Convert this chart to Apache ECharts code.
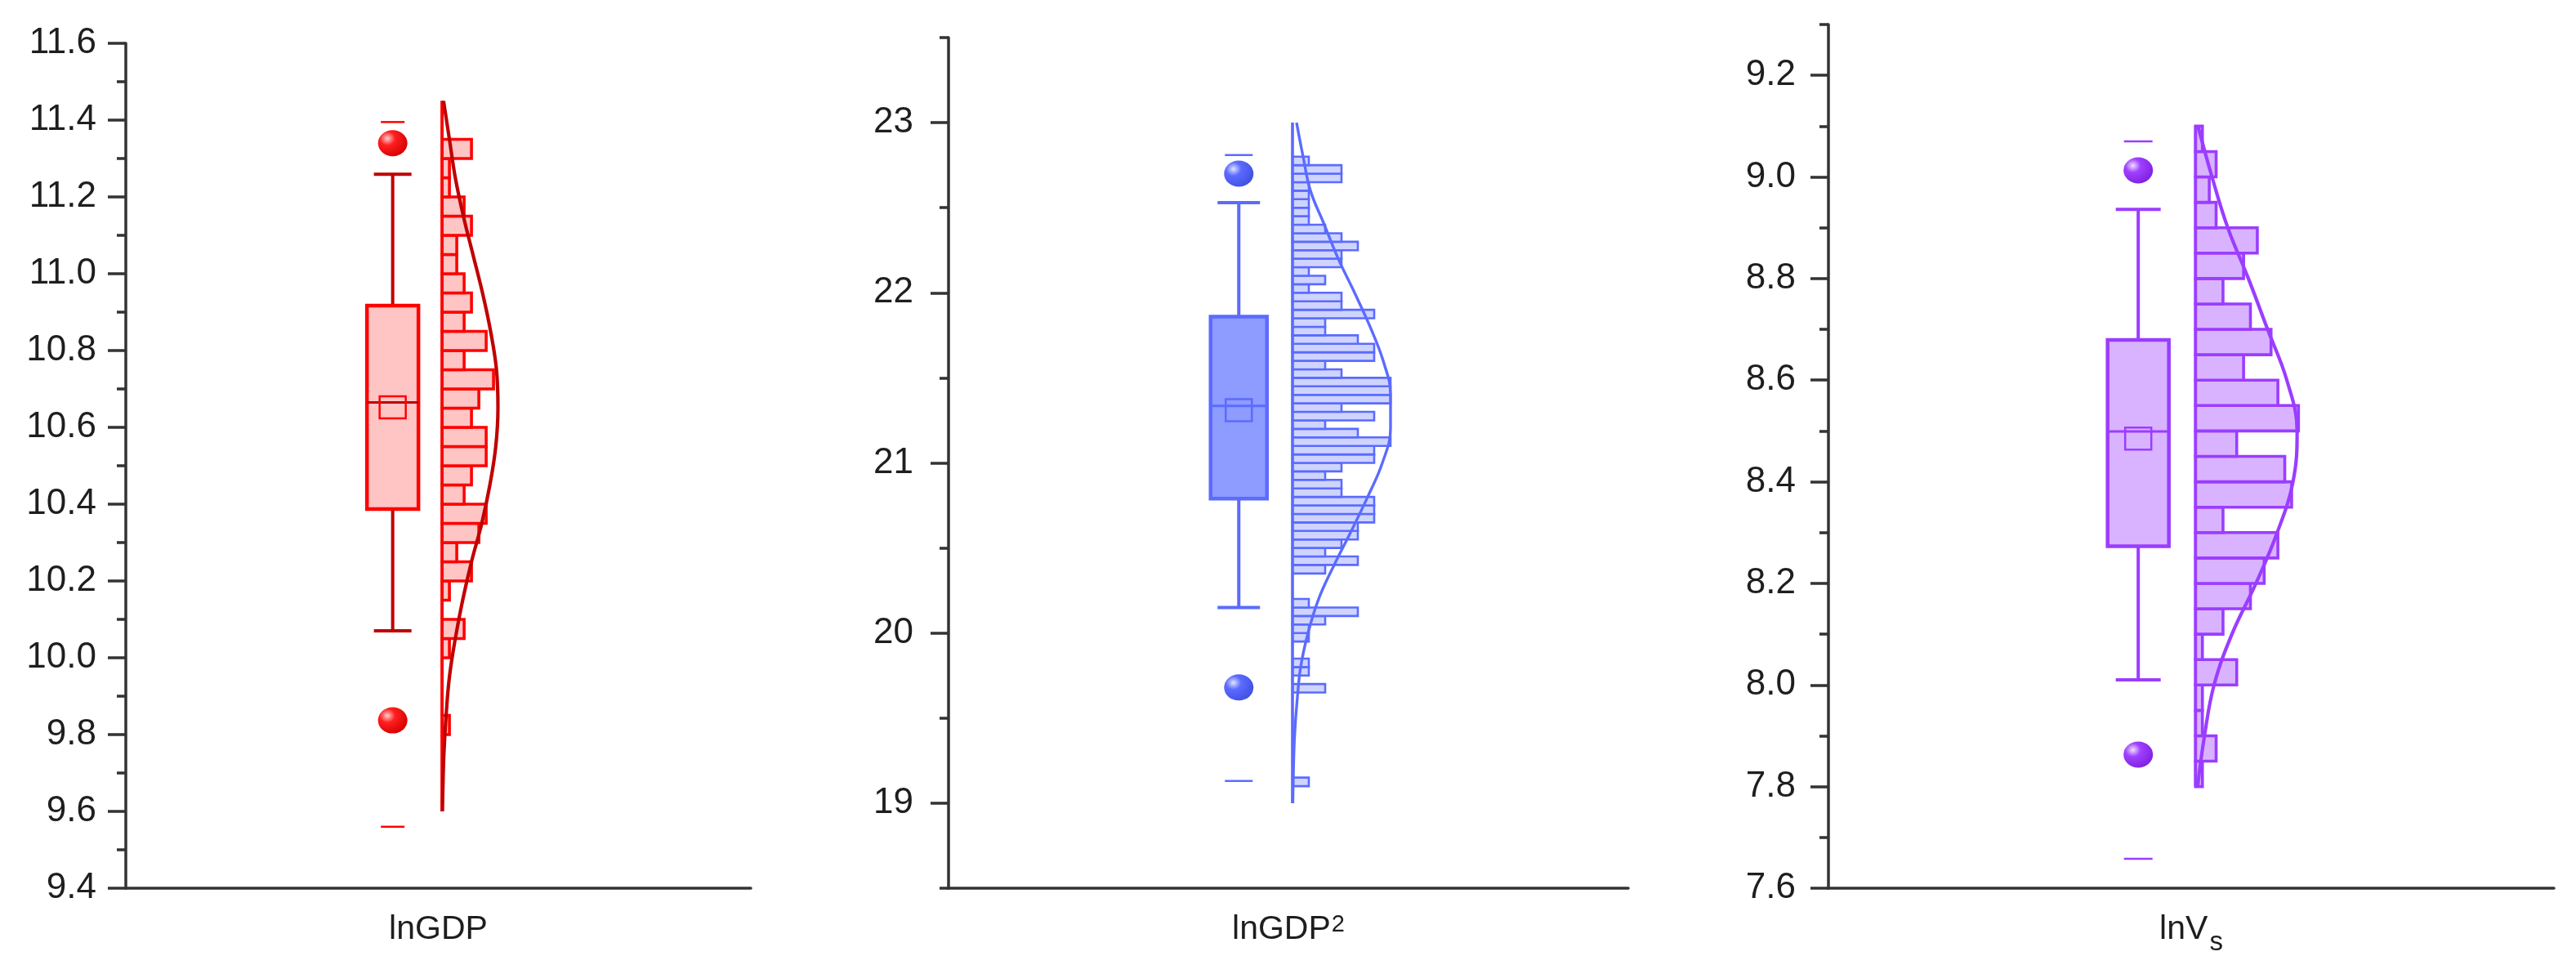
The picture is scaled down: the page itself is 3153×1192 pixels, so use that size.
<!DOCTYPE html>
<html><head><meta charset="utf-8">
<script src="https://cdn.jsdelivr.net/npm/echarts@6/dist/echarts.min.js"></script>
<style>html,body{margin:0;padding:0;background:#fff}#c{width:3153px;height:1192px}</style>
</head><body><div id="c"></div>
<script>
// ================= DATA =================
const CATEGORIES = ['lnGDP', 'lnGDP2', 'lnVs'];

// y-axis tick labels (long ticks) and minor ticks
const Y1_LABELS = [9.4, 9.6, 9.8, 10.0, 10.2, 10.4, 10.6, 10.8, 11.0, 11.2, 11.4, 11.6];
const Y1_MINOR  = [9.5, 9.7, 9.9, 10.1, 10.3, 10.5, 10.7, 10.9, 11.1, 11.3, 11.5];
const Y2_LABELS = [19, 20, 21, 22, 23];
const Y2_MINOR  = [18.5, 19.5, 20.5, 21.5, 22.5, 23.5];
const Y3_LABELS = [7.6, 7.8, 8.0, 8.2, 8.4, 8.6, 8.8, 9.0, 9.2];
const Y3_MINOR  = [7.7, 7.9, 8.1, 8.3, 8.5, 8.7, 8.9, 9.1, 9.3];
const Y_RANGES  = [[9.4, 11.6], [18.5, 23.5], [7.6, 9.3]];

// box statistics: [lower whisker, Q1, median, Q3, upper whisker]
const BOX1 = [10.07, 10.387, 10.665, 10.917, 11.259];
const BOX2 = [20.15, 20.79, 21.335, 21.86, 22.53];
const BOX3 = [8.010, 8.273, 8.499, 8.679, 8.936];
const MEANS = [10.652, 21.31, 8.485];
// min / max markers (dashes)
const MINMAX1 = [9.56, 11.395];
const MINMAX2 = [19.13, 22.81];
const MINMAX3 = [7.658, 9.070];
// outliers (balls)
const OUT1 = [9.837, 11.34];
const OUT2 = [19.68, 22.70];
const OUT3 = [7.863, 9.013];

// histograms: bin width, first bin lower edge, counts from bottom to top
const BIN = 0.05;
const H1_START = 9.60;
const H1_COUNTS = [0,0,0,0,1,0,0,0,1,3,0,1,4,2,5,6,3,4,6,6,4,5,7,3,6,3,4,3,2,2,4,3,1,1,4,0,0];
const H2_START = 19.00;
const H2_COUNTS = [0,0,1,0,0,0,0,0,0,0, 0,0,0,2,0,1,1,0,0,1, 1,2,4,1,0,0,0,2,4,2,
                   3,4,4,5,5,5,3,3,2,3, 5,5,6,4,2,5,3,6,6,6, 3,2,5,5,4,2,2,5,3,3,
                   1,2,1,3,3,4,3,2,1,1, 1,1,1,3,3,1,0,0,0,0];
const H3_START = 7.80;
const H3_COUNTS = [1,3,1,1,6,1,4,8,10,12,4,14,13,6,15,12,7,11,8,4,7,9,3,2,3,1];

// fitted distribution curves: value and count (read at regular steps)
const C1_V = [11.45,11.35,11.25,11.15,11.05,10.95,10.85,10.75,10.65,10.55,10.45,10.35,10.25,10.15,10.05,9.95,9.85,9.75,9.65,9.60];
const C1_N = [0.2,1.0,1.8,2.9,4.2,5.5,6.6,7.4,7.6,7.3,6.5,5.4,4.0,2.8,1.8,1.0,0.55,0.25,0.1,0.05];
const C2_V = [23.0,22.8,22.6,22.4,22.2,22.0,21.8,21.6,21.4,21.2,21.0,20.8,20.6,20.4,20.2,20.0,19.8,19.6,19.4,19.2,19.0];
const C2_N = [0.25,0.65,1.1,1.95,2.8,3.8,4.75,5.55,6.0,6.0,5.5,4.6,3.6,2.55,1.6,0.95,0.5,0.28,0.13,0.06,0.02];
const C3_V = [9.10,9.00,8.90,8.80,8.70,8.60,8.50,8.40,8.30,8.20,8.10,8.00,7.90,7.80];
const C3_N = [0.35,2.4,4.7,7.7,10.5,13.3,14.8,14.2,11.9,8.8,5.3,2.7,1.3,0.3];

// ================= STYLE / LAYOUT =================
const FONT = '"Liberation Sans", Arial, Helvetica, sans-serif';
const TXT = '#1e1e1e';
const AX = '#333333';
const AXW = 3.5;
const BOX_X = 0.427;      // box centre, fraction of plot width
const HIST_X = 0.506;     // histogram baseline, fraction of plot width

const PANELS = [
  {left:154, right:919, top:53, bottom:1087, color:'#FF0000', dark:'#C00000', boxFill:'#FFC4C4', histFill:'#FFC4C4',
   pxPerCount:9, boxW:63, capW:46, dashW:29, labelMargin:36, dec:1,
   labels:Y1_LABELS, minor:Y1_MINOR, box:BOX1, minmax:MINMAX1, out:OUT1, hStart:H1_START, hCounts:H1_COUNTS, cv:C1_V, cn:C1_N,
   ball:['#ffd0d0','#ff2020','#d80000'], cat:'{m|lnGDP}'},
  {left:1161, right:1993, top:46, bottom:1087, color:'#5B6BFF', dark:'#5B6BFF', boxFill:'#8E9BFF', histFill:'#CFD4FF',
   pxPerCount:20, boxW:69, capW:52, dashW:34, labelMargin:43, dec:0,
   labels:Y2_LABELS, minor:Y2_MINOR, box:BOX2, minmax:MINMAX2, out:OUT2, hStart:H2_START, hCounts:H2_COUNTS, cv:C2_V, cn:C2_N,
   ball:['#e0e4ff','#5b6bff','#4050e0'], cat:'{m|lnGDP}{sup|2}'},
  {left:2238, right:3126, top:30, bottom:1087, color:'#9B3DFF', dark:'#9B3DFF', boxFill:'#D9B3FF', histFill:'#D9B3FF',
   pxPerCount:8.4, boxW:75, capW:55, dashW:35, labelMargin:40, dec:1,
   labels:Y3_LABELS, minor:Y3_MINOR, box:BOX3, minmax:MINMAX3, out:OUT3, hStart:H3_START, hCounts:H3_COUNTS, cv:C3_V, cn:C3_N,
   ball:['#f0e0ff','#a040ff','#7f20e0'], cat:'{m|lnV}{sub|s}'}
];

const grid = [], xAxis = [], yAxis = [], series = [];

PANELS.forEach((p, k) => {
  const W = p.right - p.left, H = p.bottom - p.top;
  grid.push({left:p.left, top:p.top, width:W, height:H, containLabel:false});
  const yr = Y_RANGES[k];
  // x axes: 3k category (visible), 3k+1 slot (hidden, 0..1), 3k+2 counts (hidden)
  xAxis.push({
    type:'category', gridIndex:k, data:[CATEGORIES[k]], position:'bottom',
    axisLine:{onZero:false, lineStyle:{color:AX, width:AXW}},
    axisTick:{alignWithLabel:true, length:17, lineStyle:{color:AX, width:AXW}},
    splitLine:{show:false},
    axisLabel:{margin:30, formatter:() => p.cat, rich:{
      m:{fontFamily:FONT, fontSize:41, color:TXT, lineHeight:50, verticalAlign:'top'},
      sup:{fontFamily:FONT, fontSize:29, color:TXT, lineHeight:29, verticalAlign:'top', padding:[0,0,0,1]},
      sub:{fontFamily:FONT, fontSize:33, color:TXT, lineHeight:33, verticalAlign:'top', padding:[20,0,0,2]}
    }}
  });
  xAxis.push({type:'value', gridIndex:k, show:false, min:0, max:1, axisLine:{onZero:false}});
  const span = W / p.pxPerCount;
  xAxis.push({type:'value', gridIndex:k, show:false, min:-HIST_X*span, max:(1-HIST_X)*span, axisLine:{onZero:false}});
  // y axes: 2k main, 2k+1 minor overlay
  yAxis.push({
    type:'value', gridIndex:k, min:yr[0], max:yr[1], position:'left',
    axisLine:{show:true, onZero:false, lineStyle:{color:AX, width:AXW}},
    axisTick:{show:true, length:22, customValues:p.labels, lineStyle:{color:AX, width:AXW}},
    axisLabel:{show:true, customValues:p.labels, margin:p.labelMargin, fontFamily:FONT, fontSize:44, color:TXT,
      formatter:v => Number(v).toFixed(p.dec)},
    splitLine:{show:false}
  });
  yAxis.push({
    type:'value', gridIndex:k, min:yr[0], max:yr[1], position:'left', offset:0,
    axisLine:{show:false, onZero:false},
    axisTick:{show:true, length:11, customValues:p.minor, lineStyle:{color:AX, width:AXW}},
    axisLabel:{show:false},
    splitLine:{show:false}
  });

  const xSlot = 3*k+1, xCnt = 3*k+2, yMain = 2*k;

  // histogram bars
  const bins = p.hCounts.map((c, i) => [p.hStart + i*BIN, p.hStart + (i+1)*BIN, c]);
  series.push({
    type:'custom', xAxisIndex:xCnt, yAxisIndex:yMain, z:2,
    encode:{x:2, y:[0,1]},
    data:bins,
    renderItem:(params, api) => {
      const lo = api.value(0), hi = api.value(1), c = api.value(2);
      const a = api.coord([0, hi]), b = api.coord([c, lo]);
      return {type:'rect', shape:{x:a[0], y:a[1], width:b[0]-a[0], height:b[1]-a[1]},
        style:{fill:p.histFill, stroke:p.color, lineWidth:k===1?2.6:3.6}};
    }
  });
  // histogram baseline
  series.push({
    type:'line', xAxisIndex:xCnt, yAxisIndex:yMain, z:3, symbol:'none', silent:true,
    data:[[0, p.hStart], [0, p.hStart + p.hCounts.length*BIN]],
    lineStyle:{color:p.color, width:3.5}
  });
  // fitted curve
  series.push({
    type:'line', xAxisIndex:xCnt, yAxisIndex:yMain, z:4, symbol:'none', smooth:0.4, silent:true,
    data:p.cv.map((v, i) => [p.cn[i], v]),
    lineStyle:{color:p.dark, width:k===1?3.4:4.2}
  });
  // box plot
  series.push({
    type:'custom', xAxisIndex:xSlot, yAxisIndex:yMain, z:5,
    data:[[...p.box, MEANS[k], ...p.minmax]],
    renderItem:(params, api) => {
      const Y = v => api.coord([BOX_X, v])[1];
      const x = api.coord([BOX_X, api.value(2)])[0];
      const wLo = Y(api.value(0)), q1 = Y(api.value(1)), med = Y(api.value(2)), q3 = Y(api.value(3)), wHi = Y(api.value(4));
      const mean = Y(api.value(5)), mn = Y(api.value(6)), mx = Y(api.value(7));
      const bw = p.boxW, cw = p.capW, dw = p.dashW;
      const ln = (x1, y1, x2, y2, c, w) => ({type:'line', shape:{x1, y1, x2, y2}, style:{stroke:c, lineWidth:w}});
      return {type:'group', children:[
        ln(x, q3, x, wHi, p.dark, 4),
        ln(x, q1, x, wLo, p.dark, 4),
        ln(x-cw/2, wHi, x+cw/2, wHi, p.dark, 4),
        ln(x-cw/2, wLo, x+cw/2, wLo, p.dark, 4),
        {type:'rect', shape:{x:x-bw/2, y:q3, width:bw, height:q1-q3}, style:{fill:p.boxFill, stroke:p.color, lineWidth:4.5}},
        ln(x-bw/2, med, x+bw/2, med, p.dark, 3),
        {type:'rect', shape:{x:x-16, y:mean-13.5, width:32, height:27}, style:{fill:'none', stroke:p.color, lineWidth:2.5}},
        ln(x-dw/2, mn, x+dw/2, mn, p.color, 2.5),
        ln(x-dw/2, mx, x+dw/2, mx, p.color, 2.5)
      ]};
    }
  });
  // outliers
  series.push({
    type:'scatter', xAxisIndex:xSlot, yAxisIndex:yMain, z:6, symbol:'circle', symbolSize:[36,32],
    data:p.out.map(v => [BOX_X, v]),
    itemStyle:{opacity:1, color:{type:'radial', x:0.32, y:0.32, r:0.75,
      colorStops:[{offset:0, color:p.ball[0]}, {offset:0.35, color:p.ball[1]}, {offset:1, color:p.ball[2]}]}}
  });
});

const chart = echarts.init(document.getElementById('c'), null, {renderer:'canvas'});
chart.setOption({animation:false, backgroundColor:'#ffffff', grid, xAxis, yAxis, series});
</script>
</body></html>
